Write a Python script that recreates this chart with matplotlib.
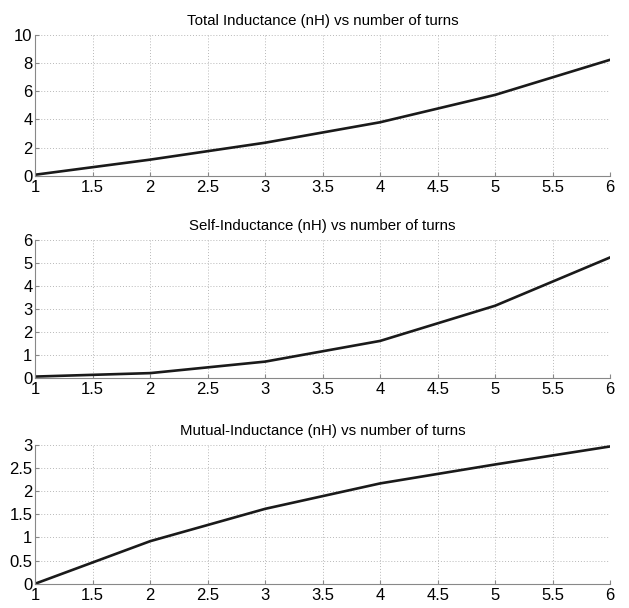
import numpy as np
import matplotlib
matplotlib.use("Agg")
import matplotlib.pyplot as plt

plt.rcParams['font.family'] = ['Liberation Sans', 'DejaVu Sans']

turns = [1, 2, 3, 4, 5, 6]
total_nH = [0.07, 1.14, 2.34, 3.79, 5.73, 8.22]
self_nH = [0.07, 0.22, 0.72, 1.62, 3.15, 5.25]
mutual_nH = [0.0, 0.92, 1.62, 2.17, 2.58, 2.97]

titles = ["Total Inductance (nH) vs number of turns",
          "Self-Inductance (nH) vs number of turns",
          "Mutual-Inductance (nH) vs number of turns"]
ylims = [(0, 10), (0, 6), (0, 3)]
yticks = [np.arange(0, 11, 2), np.arange(0, 7, 1), np.arange(0, 3.01, 0.5)]
ytick_labels = [["0", "2", "4", "6", "8", "10"],
                ["0", "1", "2", "3", "4", "5", "6"],
                ["0", "0.5", "1", "1.5", "2", "2.5", "3"]]
xticks = np.arange(1, 6.01, 0.5)
xtick_labels = ["1", "1.5", "2", "2.5", "3", "3.5", "4", "4.5", "5", "5.5", "6"]

fig = plt.figure(figsize=(6.29, 6.08), dpi=100)
boxes = [[0.056, 0.711, 0.914, 0.232],
         [0.056, 0.378, 0.914, 0.227],
         [0.056, 0.040, 0.914, 0.228]]

for box, ys, title, yl, yt, ytl in zip(boxes, [total_nH, self_nH, mutual_nH],
                                         titles, ylims, yticks, ytick_labels):
    ax = fig.add_axes(box)
    ax.plot(turns, ys, color='#1a1a1a', linewidth=1.9)
    ax.set_xlim(1, 6)
    ax.set_ylim(*yl)
    ax.set_xticks(xticks)
    ax.set_xticklabels(xtick_labels)
    ax.set_yticks(yt)
    ax.set_yticklabels(ytl)
    ax.set_title(title, fontsize=10.8, pad=7)
    ax.grid(True, linestyle=(0, (1, 2)), color='#b8b8b8', linewidth=0.7)
    for s in ['top', 'right']:
        ax.spines[s].set_visible(False)
    for s in ['left', 'bottom']:
        ax.spines[s].set_color('#888888')
        ax.spines[s].set_linewidth(0.8)
    ax.tick_params(direction='in', length=3, labelsize=12, color='#888888')
    ax.tick_params(axis='x', pad=3)
    ax.tick_params(axis='y', pad=2)

plt.savefig("out.png", dpi=100)
